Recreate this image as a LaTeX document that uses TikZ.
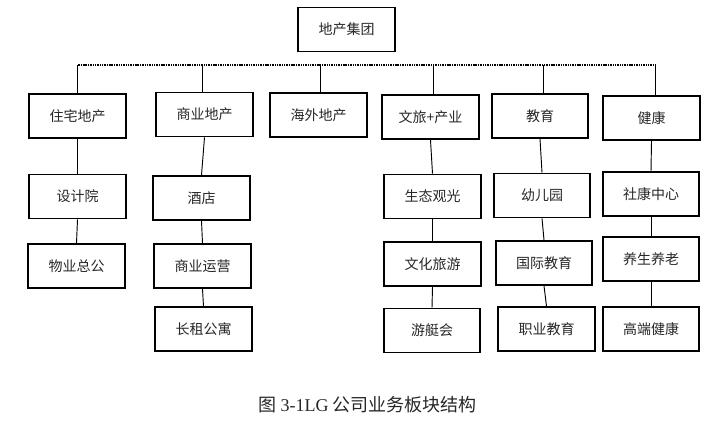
\documentclass[tikz,border=0pt]{standalone}
\usepackage{fontspec}
\setmainfont{Liberation Serif}
\newfontfamily\cjk{Noto Sans CJK SC}
\begin{document}
\begin{tikzpicture}[x=0.75pt,y=-0.75pt,
  box/.style={draw=black,line width=1.3pt,minimum width=72.5pt,minimum height=33pt,inner sep=1pt,font=\cjk\fontsize{10.5}{12}\selectfont,text=black!85},
  link/.style={draw=black,line width=0.7pt},
  bus/.style={draw=black,line width=1.4pt,dash pattern=on 0.8pt off 0.5pt}]
\useasboundingbox (0,0) rectangle (720,425);
\node[box] (top) at (346.5,29.5) {地产集团};
% level 1
\node[box] (zz) at (77.5,116) {住宅地产};
\node[box] (sy) at (204.5,114.5) {商业地产};
\node[box] (hw) at (318.5,115) {海外地产};
\node[box] (wl) at (430.5,117) {文旅+产业};
\node[box] (jy) at (540,116) {教育};
\node[box] (jk) at (651.5,118) {健康};
% level 2+
\node[box] (sjy) at (77.5,196.5) {设计院};
\node[box] (wy) at (76.5,266) {物业总公};
\node[box] (jd) at (201.5,198) {酒店};
\node[box] (syyy) at (202.5,266) {商业运营};
\node[box] (czgy) at (203.5,329) {长租公寓};
\node[box] (stgg) at (432.5,196.5) {生态观光};
\node[box] (whly) at (432.5,264) {文化旅游};
\node[box] (ytl) at (432,330.5) {游艇会};
\node[box] (yey) at (542,195.5) {幼儿园};
\node[box] (gjjy) at (544,263) {国际教育};
\node[box] (zyjy) at (546.5,329) {职业教育};
\node[box] (skzx) at (651,194) {社康中心};
\node[box] (ysyl) at (651,259) {养生养老};
\node[box] (gdjk) at (651,329) {高端健康};
% bus
\coordinate (busL) at (77.5,65);
\coordinate (busR) at (655,65);
\draw[bus] (busL) -- (busR);
\foreach \n/\dx in {zz/0,sy/-2.5,hw/1.5,wl/2.5,jy/3,jk/3.5}{
  \draw[link] ([xshift=\dx*0.75pt]\n.north) -- ([xshift=\dx*0.75pt]\n.north |- busL);
}
% vertical links
\foreach \a/\b in {zz/sjy,sjy/wy,sy/jd,jd/syyy,syyy/czgy,wl/stgg,stgg/whly,whly/ytl,jy/yey,yey/gjjy,gjjy/zyjy,jk/skzx,skzx/ysyl,ysyl/gdjk}{
  \draw[link] (\a.south) -- (\b.north);
}
\node[font=\fontsize{13.5}{15}\selectfont,text=black!85] (cap) at (367.5,405) {{\cjk 图} 3-1LG {\cjk 公司业务板块结构}};
\end{tikzpicture}
\end{document}
